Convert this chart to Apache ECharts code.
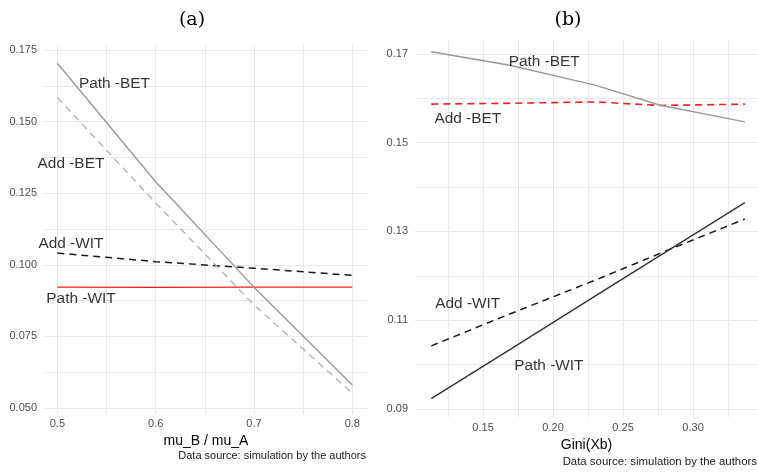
<!DOCTYPE html>
<html>
<head>
<meta charset="utf-8">
<script src="https://cdn.jsdelivr.net/npm/echarts@6/dist/echarts.min.js"></script>
<style>html,body{margin:0;padding:0;background:#fff}#c{width:758px;height:473px}</style>
</head>
<body>
<div id="c"></div>
<script>
// ---------- Panel (a) data ----------
const ratioA = [0.5, 0.6, 0.7, 0.8];
const pathBetA = [0.1704, 0.1290, 0.0922, 0.0580];
const addBetA  = [0.1584, 0.1216, 0.0860, 0.0552];
const addWitA  = [0.1041, 0.1011, 0.0988, 0.0963];
const pathWitA = [0.0922, 0.0921, 0.0922, 0.0922];
const xTicksA = [0.5, 0.6, 0.7, 0.8];
const xGridA  = [0.5, 0.55, 0.6, 0.65, 0.7, 0.75, 0.8];
const yTicksA = [0.050, 0.075, 0.100, 0.125, 0.150, 0.175];
const yGridA  = [0.05, 0.0625, 0.075, 0.0875, 0.1, 0.1125, 0.125, 0.1375, 0.15, 0.1625, 0.175];
const labelsA = [
  ['Path -BET', 0.558, 0.1631],
  ['Add -BET', 0.5138, 0.1354],
  ['Add -WIT', 0.5138, 0.1075],
  ['Path -WIT', 0.524, 0.0880]
];

// ---------- Panel (b) data ----------
const giniB = [0.113, 0.170, 0.230, 0.276, 0.337];
const pathBetB = [0.1705, 0.1674, 0.1630, 0.1585, 0.1547];
const addBetB  = [0.1587, 0.1589, 0.1592, 0.1584, 0.1587];
const addWitB  = [0.1042, 0.1115, 0.1190, 0.1250, 0.1328];
const pathWitB = [0.0923, 0.1035, 0.1154, 0.1245, 0.1365];
const xTicksB = [0.15, 0.20, 0.25, 0.30];
const xGridB  = [0.125, 0.15, 0.175, 0.2, 0.225, 0.25, 0.275, 0.3, 0.325];
const yTicksB = [0.09, 0.11, 0.13, 0.15, 0.17];
const yGridB  = [0.09, 0.10, 0.11, 0.12, 0.13, 0.14, 0.15, 0.16, 0.17];
const labelsB = [
  ['Path -BET', 0.1937, 0.1683],
  ['Add -BET', 0.1391, 0.1553],
  ['Add -WIT', 0.1391, 0.1136],
  ['Path -WIT', 0.197, 0.0998]
];

const caption = 'Data source: simulation by the authors';
const SANS = 'Liberation Sans';

function zip(xs, ys) { return xs.map((x, i) => [x, ys[i]]); }

function lineSeries(idx, xs, ys, color, dashed, width) {
  return {
    type: 'line', xAxisIndex: idx, yAxisIndex: idx,
    data: zip(xs, ys), showSymbol: false, symbol: 'none', silent: true,
    lineStyle: { color: color, width: width, type: dashed ? [7, 5] : 'solid', cap: 'butt' },
    z: 3
  };
}
function textSeries(idx, labels) {
  return {
    type: 'scatter', xAxisIndex: idx, yAxisIndex: idx, symbolSize: 0, silent: true,
    data: labels.map(l => ({ name: l[0], value: [l[1], l[2]] })),
    label: { show: true, position: 'inside', formatter: p => p.name,
      color: '#000', fontFamily: SANS, fontSize: 15.4 },
    z: 5
  };
}
const gridLine = { show: true, lineStyle: { color: '#e8e8e8', width: 1.1 } };

function xAxisDef(idx, min, max, ticks, gridVals, dec, name, gap, margin) {
  return {
    type: 'value', gridIndex: idx, min: min, max: max,
    axisLine: { show: false },
    axisTick: { show: false, customValues: gridVals },
    axisLabel: { customValues: ticks, formatter: v => v.toFixed(dec), color: '#4d4d4d',
      fontFamily: SANS, fontSize: 11, margin: margin },
    splitLine: gridLine,
    name: name, nameLocation: 'middle', nameGap: gap,
    nameTextStyle: { color: '#000', fontFamily: SANS, fontSize: 14 }
  };
}
function yAxisDef(idx, min, max, ticks, gridVals, dec, margin) {
  return {
    type: 'value', gridIndex: idx, min: min, max: max,
    axisLine: { show: false },
    axisTick: { show: false, customValues: gridVals },
    axisLabel: { customValues: ticks, formatter: v => v.toFixed(dec), color: '#4d4d4d',
      fontFamily: SANS, fontSize: 11, margin: margin },
    splitLine: gridLine
  };
}

const option = {
  animation: false,
  backgroundColor: '#fff',
  grid: [
    { left: 44, top: 45, width: 324, height: 369 },
    { left: 415, top: 40, width: 343, height: 377 }
  ],
  xAxis: [
    xAxisDef(0, 0.4864, 0.8160, xTicksA, xGridA, 1, 'mu_B / mu_A', 19, 4),
    xAxisDef(1, 0.1014, 0.3464, xTicksB, xGridB, 2, 'Gini(Xb)', 21, 5)
  ],
  yAxis: [
    yAxisDef(0, 0.0479, 0.17675, yTicksA, yGridA, 3, 7),
    yAxisDef(1, 0.08816, 0.17316, yTicksB, yGridB, 2, 7)
  ],
  graphic: [
    { type: 'text', x: 192, y: 20, style: { text: '(a)', fill: '#000', font: '19px "DejaVu Serif"', textAlign: 'center', textVerticalAlign: 'middle' } },
    { type: 'text', x: 568, y: 20, style: { text: '(b)', fill: '#000', font: '19px "DejaVu Serif"', textAlign: 'center', textVerticalAlign: 'middle' } },
    { type: 'text', x: 366, y: 456, style: { text: caption, fill: '#1a1a1a', font: '11px "Liberation Sans"', textAlign: 'right', textVerticalAlign: 'middle' } },
    { type: 'text', x: 757, y: 462, style: { text: caption, fill: '#1a1a1a', font: '11.4px "Liberation Sans"', textAlign: 'right', textVerticalAlign: 'middle' } }
  ],
  series: [
    lineSeries(0, ratioA, pathWitA, '#ff1a1a', false, 1.4),
    lineSeries(0, ratioA, addWitA, '#1a1a1a', true, 1.5),
    lineSeries(0, ratioA, addBetA, '#b3b3b3', true, 1.4),
    lineSeries(0, ratioA, pathBetA, '#999999', false, 1.4),
    textSeries(0, labelsA),
    lineSeries(1, giniB, addBetB, '#ff1a1a', true, 1.6),
    lineSeries(1, giniB, pathBetB, '#999999', false, 1.4),
    lineSeries(1, giniB, addWitB, '#1a1a1a', true, 1.5),
    lineSeries(1, giniB, pathWitB, '#333333', false, 1.4),
    textSeries(1, labelsB)
  ]
};
echarts.init(document.getElementById('c')).setOption(option);
</script>
</body>
</html>
